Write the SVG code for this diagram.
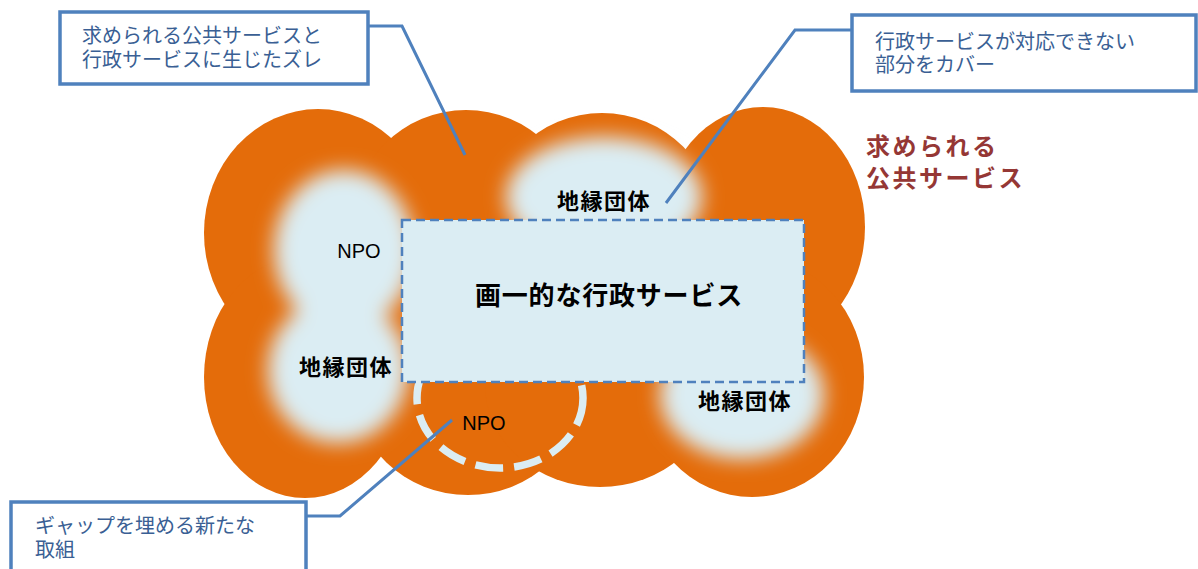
<svg xmlns="http://www.w3.org/2000/svg" width="1198" height="569" viewBox="0 0 1198 569">
<defs>
<style>
.cloud{fill:#E46C0A}
.blob{fill:#DBEDF3}
.lbl{font-family:"Liberation Sans",sans-serif;font-size:20px;fill:#000;text-anchor:middle}
.jp{font-family:"Liberation Sans","Noto Sans CJK JP",sans-serif;fill:#000;text-anchor:middle;font-weight:bold}
.box{fill:#fff;stroke:#4F81BD;stroke-width:3.5}
.btxt{font-family:"Liberation Sans","Noto Sans CJK JP",sans-serif;font-size:20px;fill:#3A5F94}
.conn{fill:none;stroke:#4F81BD;stroke-width:3}
.title{font-family:"Liberation Sans","Noto Sans CJK JP",sans-serif;font-size:24px;font-weight:bold;fill:#953735;letter-spacing:2.5px}
</style>
<filter id="blur" x="-50%" y="-50%" width="200%" height="200%"><feGaussianBlur stdDeviation="10"/></filter>
</defs>
<g id="cloud">
<rect class="cloud" x="300" y="200" width="480" height="200"/>
<ellipse class="cloud" cx="318" cy="233" rx="114" ry="124"/>
<ellipse class="cloud" cx="466" cy="225" rx="115" ry="115"/>
<ellipse class="cloud" cx="602" cy="228" rx="115" ry="115"/>
<ellipse class="cloud" cx="763" cy="227" rx="102" ry="120"/>
<ellipse class="cloud" cx="305" cy="377" rx="101" ry="121"/>
<ellipse class="cloud" cx="468" cy="385" rx="115" ry="110"/>
<ellipse class="cloud" cx="600" cy="385" rx="115" ry="102"/>
<ellipse class="cloud" cx="752" cy="377" rx="112" ry="120"/>
</g>
<g id="blobs" filter="url(#blur)">
<ellipse class="blob" cx="344" cy="250" rx="70" ry="80"/>
<ellipse class="blob" cx="338" cy="370" rx="70" ry="73"/>
<ellipse class="blob" cx="604" cy="197" rx="98" ry="60"/>
<ellipse class="blob" cx="742" cy="395" rx="82" ry="64"/>
</g>
<g id="gap-npo">
<ellipse cx="500" cy="398" rx="83" ry="70" fill="none" stroke="#DBEDF3" stroke-width="7.5" stroke-dasharray="28 11"/>
<text class="lbl" x="484" y="430">NPO</text>
</g>
<g id="admin-service">
<rect x="402" y="220" width="402" height="162" fill="#DBEDF3" stroke="#4F81BD" stroke-width="2.5" stroke-dasharray="9 5"/>
<text class="jp" x="609" y="305" font-size="26" letter-spacing="0.8">画一的な行政サービス</text>
</g>
<g id="npo-left"><text class="lbl" x="359" y="258">NPO</text></g>
<g id="chien-top"><text class="jp" x="604" y="209" font-size="22" letter-spacing="1.5">地縁団体</text></g>
<g id="chien-left"><text class="jp" x="346" y="375" font-size="22" letter-spacing="1.5">地縁団体</text></g>
<g id="chien-right"><text class="jp" x="745" y="409" font-size="22" letter-spacing="1.5">地縁団体</text></g>
<g id="required-label">
<text class="title" x="866" y="155">求められる</text>
<text class="title" x="866" y="187">公共サービス</text>
</g>
<g id="connectors">
<polyline class="conn" points="368,26 402,26 465,155"/>
<polyline class="conn" points="852,30 795,30 666,203"/>
<polyline class="conn" points="306,516 340,516 452,420"/>
</g>
<g id="callout-gap">
<rect class="box" x="60" y="12" width="308" height="72"/>
<text class="btxt" x="82" y="43">求められる公共サービスと</text>
<text class="btxt" x="82" y="67">行政サービスに生じたズレ</text>
</g>
<g id="callout-cover">
<rect class="box" x="852" y="15" width="344" height="76"/>
<text class="btxt" x="875" y="49">行政サービスが対応できない</text>
<text class="btxt" x="875" y="72">部分をカバー</text>
</g>
<g id="callout-new">
<rect class="box" x="11" y="502" width="295" height="80"/>
<text class="btxt" x="35" y="533">ギャップを埋める新たな</text>
<text class="btxt" x="35" y="557">取組</text>
</g>
</svg>
